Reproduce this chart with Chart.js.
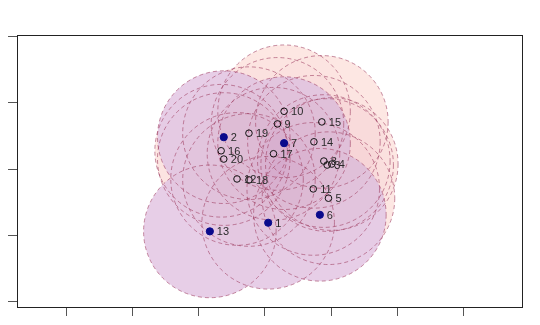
<!DOCTYPE html>
<html>
<head>
<meta charset="utf-8">
<script src="https://cdn.jsdelivr.net/npm/chart.js@4"></script>
<style>
  html, body { margin: 0; padding: 0; background: #fff; }
  #box { width: 540px; height: 325px; }
</style>
</head>
<body>
<div id="box"><canvas id="grafico"></canvas></div>
<script>
// pontos 1..20
const rotulos = ['1','2','3','4','5','6','7','8','9','10','11','12','13','14','15','16','17','18','19','20'];
const valoresX = [0.05, -0.62, 0.94, 1.01, 0.96, 0.83, 0.29, 0.89, 0.19, 0.29, 0.73, -0.42, -0.83, 0.74, 0.86, -0.66, 0.13, -0.24, -0.24, -0.62];
const valoresY = [-0.81, 0.48, 0.06, 0.075, -0.44, -0.69, 0.39, 0.12, 0.68, 0.87, -0.30, -0.15, -0.94, 0.41, 0.71, 0.275, 0.23, -0.165, 0.54, 0.15];
const raios = [1, 1, 1, 1, 1, 1, 1, 1, 1, 1, 1, 1, 1, 1, 1, 1, 1, 1, 1, 1];
const cheio = [1, 1, 0, 0, 0, 1, 1, 0, 0, 0, 0, 0, 1, 0, 0, 0, 0, 0, 0, 0];
const ticksX = [-3, -2, -1, 0, 1, 2, 3];
const ticksY = [-2, -1, 0, 1, 2];

const corRosa = '#feeae5';
const corLilas = '#e8d0e9';
const corBorda = 'rgba(160, 65, 100, 0.6)';

function montarPontos(tipo) {
  const pts = [];
  for (let i = 0; i < rotulos.length; i++) {
    if (cheio[i] === tipo) pts.push({ x: valoresX[i], y: valoresY[i], r: raios[i], nome: rotulos[i] });
  }
  return pts;
}

// circulos desenhados antes dos pontos: primeiro rosa, depois lilas, depois as bordas
const circulos = {
  id: 'circulos',
  beforeDatasetsDraw(chart) {
    const ctx = chart.ctx;
    const sx = chart.scales.x, sy = chart.scales.y;
    const area = chart.chartArea;
    ctx.save();
    ctx.beginPath();
    ctx.rect(area.left, area.top, area.right - area.left, area.bottom - area.top);
    ctx.clip();
    function elipse(i) {
      const cx = sx.getPixelForValue(valoresX[i]);
      const cy = sy.getPixelForValue(valoresY[i]);
      const rx = Math.abs(sx.getPixelForValue(valoresX[i] + raios[i]) - cx);
      const ry = Math.abs(sy.getPixelForValue(valoresY[i] + raios[i]) - cy);
      ctx.beginPath();
      ctx.ellipse(cx, cy, rx, ry, 0, 0, Math.PI * 2);
    }
    [0, 1].forEach(function (tipo) {
      ctx.fillStyle = tipo ? corLilas : corRosa;
      for (let i = 0; i < rotulos.length; i++) {
        if (cheio[i] !== tipo) continue;
        elipse(i);
        ctx.fill();
      }
    });
    // leve escurecimento onde os circulos se sobrepoem
    ctx.fillStyle = 'rgba(200, 120, 170, 0.025)';
    for (let i = 0; i < rotulos.length; i++) {
      elipse(i);
      ctx.fill();
    }
    ctx.strokeStyle = corBorda;
    ctx.lineWidth = 1;
    ctx.setLineDash([4, 3]);
    for (let i = 0; i < rotulos.length; i++) {
      elipse(i);
      ctx.stroke();
    }
    ctx.restore();
  },
  afterDatasetsDraw(chart) {
    const ctx = chart.ctx;
    ctx.save();
    ctx.font = '11px "Liberation Sans", Arial, sans-serif';
    ctx.fillStyle = '#2a2a2a';
    ctx.textAlign = 'left';
    ctx.textBaseline = 'middle';
    chart.data.datasets.forEach(function (ds, d) {
      const meta = chart.getDatasetMeta(d);
      meta.data.forEach(function (el, k) {
        ctx.fillText(ds.data[k].nome, el.x + 7, el.y + 1);
      });
    });
    // moldura
    const a = chart.chartArea;
    ctx.strokeStyle = '#222';
    ctx.lineWidth = 1;
    ctx.strokeRect(a.left + 0.5, a.top + 0.5, a.right - a.left, a.bottom - a.top);
    ctx.restore();
  }
};

const eixo = function (min, max, ticks) {
  return {
    type: 'linear',
    min: min,
    max: max,
    afterBuildTicks: function (scale) {
      scale.ticks = ticks.map(function (v) { return { value: v }; });
    },
    ticks: { display: false },
    grid: { drawOnChartArea: false, drawTicks: true, tickLength: 9, color: '#555', lineWidth: 1 },
    border: { display: true, color: '#222' }
  };
};

new Chart(document.getElementById('grafico'), {
  type: 'scatter',
  data: {
    datasets: [
      {
        data: montarPontos(0),
        pointRadius: 3.3,
        pointBackgroundColor: 'rgba(0,0,0,0)',
        pointBorderColor: '#111',
        pointBorderWidth: 1
      },
      {
        data: montarPontos(1),
        pointRadius: 3.6,
        pointBackgroundColor: '#0a0a8c',
        pointBorderColor: '#0a0a8c',
        pointBorderWidth: 1
      }
    ]
  },
  plugins: [circulos],
  options: {
    responsive: true,
    maintainAspectRatio: false,
    animation: false,
    layout: { padding: { left: 8, right: 18, top: 35, bottom: 9 } },
    plugins: { legend: { display: false }, tooltip: { enabled: false } },
    scales: {
      x: eixo(-3.74, 3.88, ticksX),
      y: eixo(-2.08, 2.02, ticksY)
    }
  }
});
</script>
</body>
</html>
